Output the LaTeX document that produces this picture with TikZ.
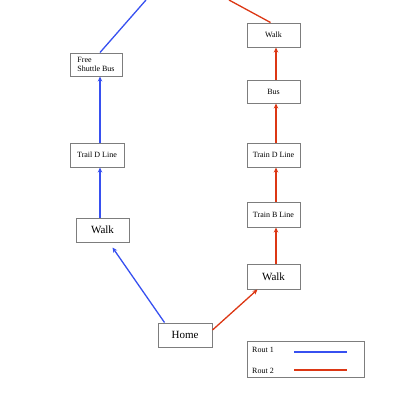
\documentclass[tikz,border=0pt]{standalone}
\usepackage{fontspec}
\setmainfont{Liberation Serif}
\usetikzlibrary{arrows.meta,calc}
\definecolor{rblue}{RGB}{55,80,240}
\definecolor{rred}{RGB}{220,55,20}
\definecolor{bgray}{RGB}{125,125,125}
\tikzset{
  box/.style={draw=bgray,line width=1pt,fill=white,minimum width=53pt,minimum height=24pt,inner sep=1pt,font=\fontsize{8}{9}\selectfont},
  bigbox/.style={box,font=\fontsize{11}{12}\selectfont},
  bl/.style={rblue,line width=1.3pt},
  rd/.style={rred,line width=1.3pt},
  arr/.style={-{Stealth[length=5pt,width=4.5pt]}}
}
\begin{document}
\begin{tikzpicture}[x=1pt,y=-1pt]
\useasboundingbox (0,0) rectangle (400,400);
% blue route
\node[box,minimum width=52pt,minimum height=23pt,align=left] (fsb) at (96,64.5) {Free\\Shuttle Bus};
\node[box,minimum width=54pt] (tdl) at (97,155) {Trail D Line};
\node[bigbox] (w1) at (102.5,230) {Walk};
\node[bigbox,minimum width=54pt] (home) at (185,335) {Home};
% red route
\node[box] (w3) at (273.5,35) {Walk};
\node[box,minimum height=23pt] (bus) at (273.5,91.5) {Bus};
\node[box] (tdl2) at (273.5,155) {Train D Line};
\node[box,minimum height=25pt] (tbl) at (273.5,214.5) {Train B Line};
\node[bigbox,minimum height=25pt] (w2) at (273.5,276.5) {Walk};
\coordinate (btop) at (146,0);
\coordinate (rtop) at (229,0);
% blue connectors
\draw[bl,arr] ($(home.north west)+(7,0)$) -- ($(w1.south)+(10,5)$);
\draw[bl,arr] (w1.north -| 100,0) -- (tdl.south -| 100,0);
\draw[bl,arr] (tdl.north -| 100,0) -- (fsb.south -| 100,0);
\draw[bl] (fsb.north -| 100,0) -- (btop);
% red connectors
\draw[rd,arr] ($(home.east)+(0,-5)$) -- ($(w2.south west)+(11,0)$);
\draw[rd,arr] (w2.north -| 276,0) -- (tbl.south -| 276,0);
\draw[rd,arr] (tbl.north -| 276,0) -- (tdl2.south -| 276,0);
\draw[rd,arr] (tdl2.north -| 276,0) -- (bus.south -| 276,0);
\draw[rd,arr] (bus.north -| 276,0) -- (w3.south -| 276,0);
\draw[rd] ($(w3.north)+(-3,0)$) -- (rtop);
% legend
\node[draw=bgray,line width=1pt,minimum width=117pt,minimum height=36pt,inner sep=0pt] (leg) at (305.5,359) {};
\node[anchor=west,font=\fontsize{8}{9}\selectfont,inner sep=0pt] (l1) at (252,350) {Rout 1};
\node[anchor=west,font=\fontsize{8}{9}\selectfont,inner sep=0pt] (l2) at (252,371) {Rout 2};
\coordinate (b1) at (294,352);
\coordinate (b2) at (347,352);
\coordinate (r1) at (294,370);
\coordinate (r2) at (347,370);
\draw[bl] (b1) -- (b2);
\draw[rd] (r1) -- (r2);
\end{tikzpicture}
\end{document}
